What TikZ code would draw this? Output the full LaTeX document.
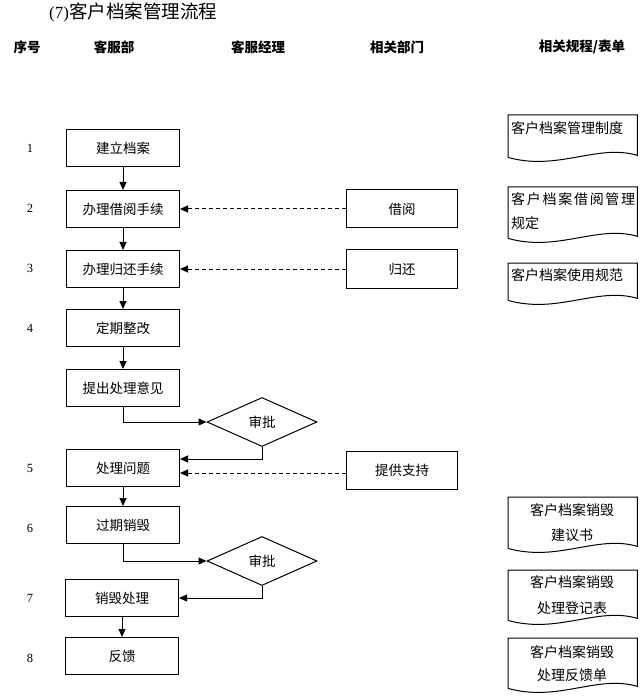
\documentclass[tikz,border=0pt]{standalone}
\usepackage{fontspec}
\setmainfont{Liberation Serif}
\newfontfamily\cjk{Noto Sans CJK SC}
\usetikzlibrary{arrows.meta,shapes.geometric}
\begin{document}
\begin{tikzpicture}[x=1pt,y=-1pt,
  ln/.style={line width=1pt},
  box/.style={draw,ln,minimum width=113pt,minimum height=37pt,inner sep=0pt,font=\cjk\fontsize{13.5}{16}\selectfont},
  dept/.style={box,minimum width=111pt,minimum height=38pt},
  dec/.style={diamond,draw,ln,aspect=2.25,minimum width=110pt,minimum height=49pt,inner sep=0pt,font=\cjk\fontsize{13.5}{16}\selectfont},
  hdr/.style={font=\cjk\bfseries\fontsize{13.5}{16}\selectfont},
  num/.style={font=\fontsize{12.5}{15}\selectfont},
  docframe/.style={minimum width=129pt,inner sep=0pt,anchor=north west},
  doctext/.style={font=\cjk\fontsize{14}{16}\selectfont,inner sep=0pt},
  arr/.style={ln,-{Triangle[length=8pt,width=7pt]}},
  darr/.style={arr,dashed,dash pattern=on 4pt off 3pt}
]
\useasboundingbox (0,0) rectangle (640,700);
\node[anchor=west,font=\fontsize{17}{20}\selectfont,inner sep=0pt] (title) at (49,12) {(7)\cjk\fontsize{18.5}{20}\selectfont 客户档案管理流程};
% headers
\node[hdr] (h0) at (27,47) {序号};
\node[hdr] (h1) at (114,47) {客服部};
\node[hdr] (h2) at (258,47) {客服经理};
\node[hdr] (h3) at (397,47) {相关部门};
\node[hdr] (h4) at (582,47) {相关规程/表单};
% row numbers
\node[num] (n1) at (30,148) {1};
\node[num] (n2) at (30,208) {2};
\node[num] (n3) at (30,268) {3};
\node[num] (n4) at (30,328) {4};
\node[num] (n5) at (30,468) {5};
\node[num] (n6) at (30,528) {6};
\node[num] (n7) at (30,598) {7};
\node[num] (n8) at (30,658) {8};
% main boxes
\node[box] (b1) at (123,148) {建立档案};
\node[box] (b2) at (123,209) {办理借阅手续};
\node[box] (b3) at (123,269) {办理归还手续};
\node[box] (b4) at (123,328) {定期整改};
\node[box] (b5) at (123,388) {提出处理意见};
\node[box] (b6) at (123,468) {处理问题};
\node[box] (b7) at (123,525) {过期销毁};
\node[box] (b8) at (122,598) {销毁处理};
\node[box] (b9) at (122,656) {反馈};
% departments
\node[dept] (r1) at (402,209) {借阅};
\node[dept] (r2) at (402,269) {归还};
\node[dept] (r3) at (402,470) {提供支持};
% decisions
\node[dec] (d1) at (262,422) {审批};
\node[dec] (d2) at (262,561) {审批};
% arrows
\draw[arr] (b1) -- (b2);
\draw[arr] (b2) -- (b3);
\draw[arr] (b3) -- (b4);
\draw[arr] (b4) -- (b5);
\draw[arr] (b6) -- (b7);
\draw[arr] (b8) -- (b9);
\draw[arr] (b5.south) |- (d1.west);
\draw[arr] (d1.south) |- ([yshift=9pt]b6.east);
\draw[arr] (b7.south) |- (d2.west);
\draw[arr] (d2.south) |- (b8.east);
\draw[darr] (r1.west) -- (b2.east);
\draw[darr] (r2.west) -- (b3.east);
\draw[darr] ([yshift=-3pt]r3.west) -- ([yshift=-5pt]b6.east);
% documents
\node[docframe,minimum height=42pt] (f1) at (508,115) {};
\node[docframe,minimum height=51pt] (f2) at (508,187) {};
\node[docframe,minimum height=37pt] (f3) at (508,263) {};
\node[docframe,minimum height=51pt] (f4) at (508,497) {};
\node[docframe,minimum height=50pt] (f5) at (508,570) {};
\node[docframe,minimum height=50pt] (f6) at (508,638) {};
\foreach \f in {f1,f2,f3,f4,f5,f6}{
  \draw[ln] (\f.south west) -- (\f.north west) -- (\f.north east) -- ([yshift=2pt]\f.south east)
    .. controls +(-40,-12) and +(50,14) .. (\f.south west);
}
\node[doctext,anchor=west] (t1) at (511,128) {客户档案管理制度};
\node[doctext,anchor=west] (t2a) at (511,199) {\makebox[124pt][l]{客\hfill 户\hfill 档\hfill 案\hfill 借\hfill 阅\hfill 管\hfill 理}};
\node[doctext,anchor=west] (t2b) at (511,223) {规定};
\node[doctext,anchor=west] (t3) at (511,275) {客户档案使用规范};
\node[doctext] (t4a) at (572,510) {客户档案销毁};
\node[doctext] (t4b) at (572,535) {建议书};
\node[doctext] (t5a) at (572,582) {客户档案销毁};
\node[doctext] (t5b) at (572,608) {处理登记表};
\node[doctext] (t6a) at (572,652) {客户档案销毁};
\node[doctext] (t6b) at (572,675) {处理反馈单};
\end{tikzpicture}
\end{document}
